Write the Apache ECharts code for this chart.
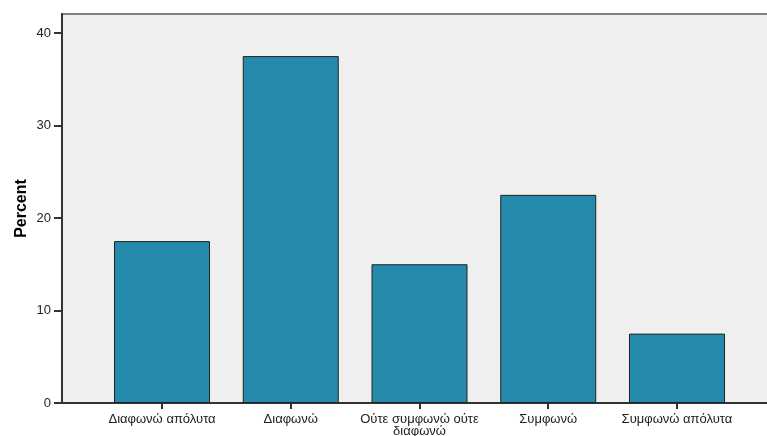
<!DOCTYPE html>
<html>
<head>
<meta charset="utf-8">
<script src="https://cdn.jsdelivr.net/npm/echarts@6/dist/echarts.min.js"></script>
<style>
html,body{margin:0;padding:0;background:#fff;}
#c{width:767px;height:436px;}
</style>
</head>
<body>
<div id="c"></div>
<script>
var categories = ['Διαφωνώ απόλυτα', 'Διαφωνώ', 'Ούτε συμφωνώ ούτε διαφωνώ', 'Συμφωνώ', 'Συμφωνώ απόλυτα'];
var percentValues = [17.5, 37.5, 15.0, 22.5, 7.5];
var yTicks = [0, 10, 20, 30, 40];
var yAxisTitle = 'Percent';

var FONT = 'Arial, "Liberation Sans", sans-serif';
var LABEL_FONT_SIZE = 13;
var LABEL_MAX_W = 122;
var measureCtx = document.createElement('canvas').getContext('2d');
measureCtx.font = LABEL_FONT_SIZE + 'px ' + FONT;
function wrapLabel(text) {
  var words = text.split(' '), lines = [], cur = '';
  words.forEach(function (w) {
    var t = cur ? cur + ' ' + w : w;
    if (cur && measureCtx.measureText(t).width > LABEL_MAX_W) { lines.push(cur); cur = w; }
    else { cur = t; }
  });
  if (cur) lines.push(cur);
  return lines.join('\n');
}

var chart = echarts.init(document.getElementById('c'), null, {renderer: 'canvas'});
var seriesData = percentValues.map(function (v, i) { return [i, v]; });
var catIdx = categories.map(function (c, i) { return i; });

chart.setOption({
  animation: false,
  backgroundColor: '#ffffff',
  grid: {
    left: 62, top: 14, right: -10, bottom: 33,
    outerBoundsMode: 'none', containLabel: false,
    show: true, backgroundColor: '#efefef', borderColor: '#7f7f7f', borderWidth: 2
  },
  xAxis: {
    type: 'value', min: -0.777, max: 4.777,
    splitLine: {show: false},
    axisLine: {show: true, onZero: false, lineStyle: {color: '#333333', width: 2}},
    axisTick: {show: true, customValues: catIdx, length: 6, lineStyle: {color: '#333333', width: 2}},
    axisLabel: {
      customValues: catIdx, margin: 10, hideOverlap: false,
      color: '#222222', fontFamily: FONT, fontSize: LABEL_FONT_SIZE, lineHeight: 12,
      formatter: function (v) { var c = categories[Math.round(v)]; return c ? wrapLabel(c) : ''; }
    }
  },
  yAxis: {
    type: 'value', min: 0, max: 42.05,
    name: yAxisTitle, nameLocation: 'middle', nameGap: 32, nameMoveOverlap: false, nameRotate: 90,
    nameTextStyle: {color: '#000000', fontWeight: 'bold', fontSize: 16, fontFamily: FONT},
    splitLine: {show: false},
    axisLine: {show: true, onZero: false, lineStyle: {color: '#333333', width: 2}},
    axisTick: {show: true, customValues: yTicks, length: 8, lineStyle: {color: '#333333', width: 2}},
    axisLabel: {customValues: yTicks, margin: 11, color: '#222222', fontSize: 13, fontFamily: FONT}
  },
  series: [{
    type: 'bar',
    data: seriesData,
    barWidth: 96,
    itemStyle: {color: '#248bac', borderColor: '#222222', borderWidth: 1}
  }]
});
</script>
</body>
</html>
